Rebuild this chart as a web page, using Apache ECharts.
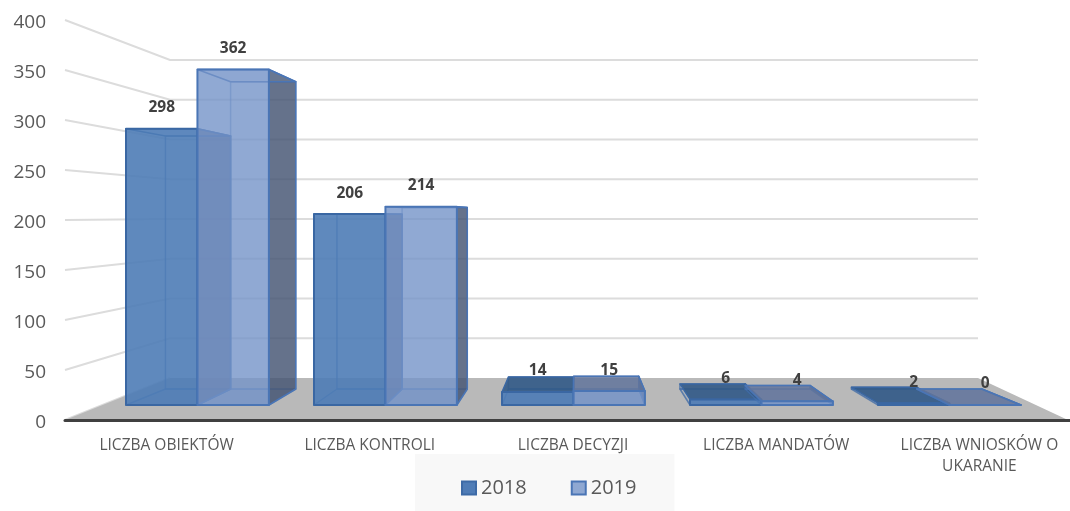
<!DOCTYPE html>
<html>
<head>
<meta charset="utf-8">
<style>html,body{margin:0;padding:0;background:#fff}#c{width:1070px;height:511px}</style>
<script src="https://cdn.jsdelivr.net/npm/echarts@6/dist/echarts.min.js"></script>
</head>
<body>
<div id="c"></div>
<script>
const categories = ['LICZBA OBIEKTÓW', 'LICZBA KONTROLI', 'LICZBA DECYZJI', 'LICZBA MANDATÓW', 'LICZBA WNIOSKÓW O\nUKARANIE'];
const years = ['2018', '2019'];
const values2018 = [298, 206, 14, 6, 2];
const values2019 = [362, 214, 15, 4, 0];
const yTicks = [0, 50, 100, 150, 200, 250, 300, 350, 400];

const FONT = '"Open Sans", sans-serif';
const DEPTH = { left: 105, right: 90, rise: 42, shrink: 0.205, insetRight: 13 };
const BAR = {
  gap: 0.125, width: 0.38,
  front: { t: 0.357, start: 37.5, step: 188 },
  back: { t: 0.738, start: 79, step: 171.5 }
};
const SKIN = [
  { front: 'rgba(78,124,182,0.90)', right: 'rgba(70,85,115,0.83)', top: 'rgba(50,90,135,0.90)', edge: '#3a67a3', inner: 'rgba(61,106,166,0.75)' },
  { front: 'rgba(116,148,200,0.80)', right: 'rgba(70,85,115,0.83)', top: 'rgba(98,116,155,0.85)', edge: '#4a75b5', inner: 'rgba(74,117,181,0.55)' }
];

function projector(params, api) {
  const cs = params.coordSys;
  const base = api.coord([0, 0])[1];
  const frontLeft = cs.x, frontRight = cs.x + cs.width - DEPTH.insetRight;
  const n = categories.length;
  return function (u, t, v) {
    const l = frontLeft + DEPTH.left * t;
    const r = frontRight - DEPTH.right * t;
    const px = base - api.coord([0, v])[1];
    return [l + (r - l) * u / n, base - DEPTH.rise * t - px * (1 - DEPTH.shrink * t)];
  };
}

function renderFloor(params, api) {
  const P = projector(params, api);
  return { type: 'polygon', shape: { points: [P(0, 0, 0), P(0, 1, 0), P(categories.length, 1, 0), P(categories.length, 0, 0)] }, style: { fill: '#b9b9b9' } };
}

function renderWall(params, api) {
  const P = projector(params, api);
  const v = api.value(1);
  const lineStyle = { stroke: '#dcdcdc', lineWidth: 2, fill: null };
  return { type: 'polyline', shape: { points: v === 0 ? [P(0, 0, 0), P(0, 1, 0)] : [P(0, 0, v), P(0, 1, v), P(categories.length, 1, v)] }, style: lineStyle };
}

function barRenderer(s) {
  return function (params, api) {
    const P = projector(params, api);
    const cs = params.coordSys;
    const c = api.value(0), v = api.value(1);
    const skin = SKIN[s];
    const u0 = c + BAR.gap + s * BAR.width, u1 = u0 + BAR.width;
    const Q = (u, plane, val) => [cs.x + plane.start + plane.step * u, P(0, plane.t, val)[1]];
    const f = BAR.front, b = BAR.back;
    const ftl = Q(u0, f, v), ftr = Q(u1, f, v), fbl = Q(u0, f, 0), fbr = Q(u1, f, 0);
    const btl = Q(u0, b, v), btr = Q(u1, b, v), bbl = Q(u0, b, 0), bbr = Q(u1, b, 0);
    const poly = (pts, fill, stroke, w) => ({ type: 'polygon', shape: { points: pts }, style: { fill: fill, stroke: stroke, lineWidth: w, lineJoin: 'round' } });
    const seenFromAbove = btl[1] < ftl[1] - 1;
    const children = [
      poly([bbl, bbr, btr, btl], 'rgba(0,0,0,0)', skin.inner, 1.5),
      poly([fbl, fbr, bbr, bbl], 'rgba(78,124,182,0.12)', skin.inner, 1.5),
      poly([ftr, btr, bbr, fbr], skin.right, skin.edge, 1.5),
      poly([ftl, ftr, btr, btl], seenFromAbove ? skin.top : 'rgba(140,165,210,0.10)', skin.edge, 1.5),
      poly([ftl, ftr, fbr, fbl], skin.front, skin.edge, 2),
      {
        type: 'text', z2: 100,
        style: {
          x: (ftl[0] + ftr[0]) / 2, y: ftl[1] - 21, text: String(v),
          fill: '#404040', font: 'bold 15.5px ' + FONT, align: 'center', verticalAlign: 'middle'
        }
      }
    ];
    return { type: 'group', children };
  };
}

const chart = echarts.init(document.getElementById('c'), null, { renderer: 'canvas' });
chart.setOption({
  animation: false,
  backgroundColor: '#ffffff',
  grid: { left: 65, top: 20, width: 1016, height: 400, containLabel: false, outerBoundsMode: 'none' },
  legend: {
    left: 415, top: 454, orient: 'horizontal',
    data: years.map(name => ({ name, icon: 'rect' })),
    backgroundColor: '#f8f8f8',
    padding: [24, 38, 13, 46],
    itemWidth: 14, itemHeight: 13, itemGap: 44,
    textStyle: { color: '#595959', fontSize: 20, fontFamily: FONT }
  },
  xAxis: {
    type: 'category', data: categories, z: 10,
    axisLine: { show: true, lineStyle: { color: '#404040', width: 3 } },
    axisTick: { show: false },
    axisLabel: { color: '#595959', fontSize: 15.5, fontFamily: FONT, margin: 15, lineHeight: 21, interval: 0 },
    splitLine: { show: false }
  },
  yAxis: {
    type: 'value', min: 0, max: 400, interval: 50,
    axisLine: { show: false }, axisTick: { show: false }, splitLine: { show: false },
    axisLabel: { color: '#595959', fontSize: 19, fontFamily: FONT, margin: 19, verticalAlign: 'top', lineHeight: 6 }
  },
  series: [
    { type: 'custom', name: 'wall', z: 1, silent: true, renderItem: renderWall, data: yTicks.map(t => [0, t]), encode: { x: 0, y: 1 } },
    { type: 'custom', name: 'floor', z: 1, silent: true, renderItem: renderFloor, data: [[0, 0]], encode: { x: 0, y: 1 } },
    { type: 'custom', name: years[0], z: 3, renderItem: barRenderer(0), data: values2018.map((v, i) => [i, v]), encode: { x: 0, y: 1 }, itemStyle: { color: '#4f7cb6', borderColor: '#3d6aa6', borderWidth: 1.5 } },
    { type: 'custom', name: years[1], z: 4, renderItem: barRenderer(1), data: values2019.map((v, i) => [i, v]), encode: { x: 0, y: 1 }, itemStyle: { color: '#8fa8d2', borderColor: '#4a75b5', borderWidth: 1.5 } }
  ]
});
</script>
</body>
</html>
